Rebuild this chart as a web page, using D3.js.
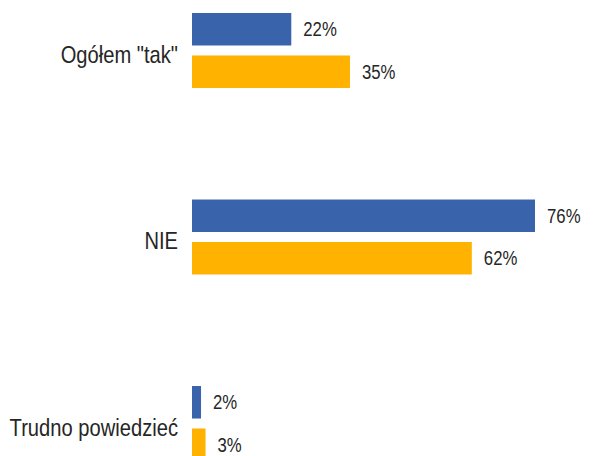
<!DOCTYPE html>
<html>
<head>
<meta charset="utf-8">
<script src="https://cdn.jsdelivr.net/npm/d3@7"></script>
<style>
  body { margin: 0; background: #fff; }
  svg { display: block; font-family: "Liberation Sans", Arial, sans-serif; }
</style>
</head>
<body>
<div class="main"></div>
<script>
const width = 605;
const height = 456;

const categories = ["Ogółem \"tak\"", "NIE", "Trudno powiedzieć"];
const series = ["A", "B"];
const valuesA = [22, 76, 2];
const valuesB = [35, 62, 3];
const colors = ["#3964ac", "#ffb300"];

const data = categories.map((c, i) => ({ cat: c, vals: [valuesA[i], valuesB[i]] }));

const x = d3.scaleLinear()
  .domain([0, 76])
  .range([192, 535]);

// group bands
const y0 = d3.scaleBand()
  .domain(categories)
  .range([13, 461])
  .paddingInner(0.598)
  .paddingOuter(0);

// bars inside a group
const y1 = d3.scaleBand()
  .domain(series)
  .range([0, y0.bandwidth()])
  .paddingInner(0.235);

const svg = d3.select(".main")
  .append("svg")
    .attr("width", width)
    .attr("height", height);

const g = svg.selectAll("g.grp")
  .data(data)
  .join("g")
    .attr("class", "grp")
    .attr("transform", (d) => `translate(0,${y0(d.cat)})`);

// category label
g.append("text")
  .attr("transform", (d) => `translate(178,${y0.bandwidth() / 2 + 4}) scale(0.84,1)`)
  .attr("text-anchor", "end")
  .attr("dy", "0.35em")
  .attr("fill", "#262626")
  .attr("font-size", "24px")
  .text((d) => d.cat);

const bars = g.selectAll("g.bar")
  .data((d) => d.vals.map((v, i) => ({ v, s: series[i], i })))
  .join("g")
    .attr("class", "bar");

bars.append("rect")
  .attr("x", x(0))
  .attr("y", (d) => y1(d.s))
  .attr("width", (d) => x(d.v) - x(0))
  .attr("height", y1.bandwidth())
  .attr("fill", (d) => colors[d.i]);

bars.append("text")
  .attr("transform", (d) => `translate(${x(d.v) + 12},${y1(d.s) + y1.bandwidth() / 2}) scale(0.86,1)`)
  .attr("dy", "0.35em")
  .attr("fill", "#262626")
  .attr("font-size", "19.5px")
  .text((d) => `${d.v}%`);
</script>
</body>
</html>
